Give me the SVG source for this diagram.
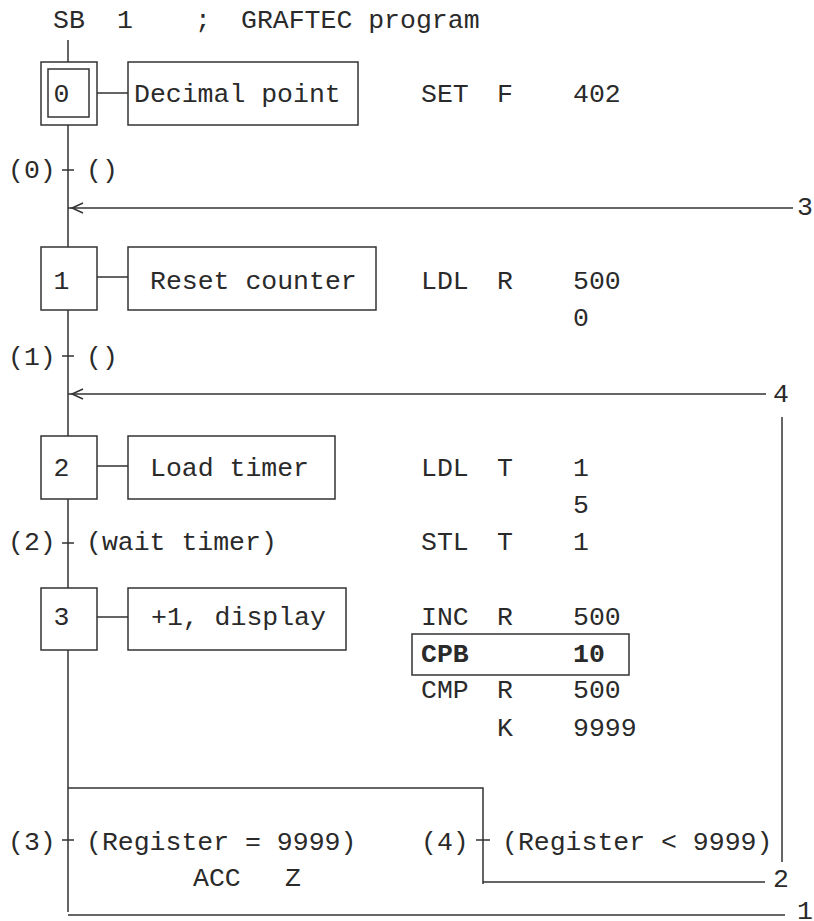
<svg xmlns="http://www.w3.org/2000/svg" width="814" height="921" viewBox="0 0 814 921">
<style>
.t { font-family: "Liberation Mono", "DejaVu Sans Mono", monospace; font-size: 26.5px; fill: #2a2a2a; }
.m { text-anchor: middle; }
.b { font-weight: bold; }
.ln { stroke: #333; stroke-width: 1.5; fill: none; }
.bx { stroke: #333; stroke-width: 1.5; fill: #fff; }
</style>
<defs>
<marker id="arr" markerUnits="userSpaceOnUse" markerWidth="20" markerHeight="20" refX="4" refY="0" orient="auto" overflow="visible">
<path d="M -11 -5 L 0 0 L -11 5" stroke="#333" stroke-width="1.5" fill="none"/>
</marker>
</defs>
<rect width="814" height="921" fill="#fff"/>

<g id="header">
<text class="t" x="53" y="28">SB</text>
<text class="t m" x="125" y="28">1</text>
<text class="t m" x="203" y="28">;</text>
<text class="t" x="241" y="28">GRAFTEC program</text>
</g>

<g id="connectors">
<path class="ln" d="M68 40 V62 M68 125 V247 M68 310 V436 M68 499 V588 M68 650 V912"/>
<path class="ln" d="M97 93 H128 M97 277 H128 M97 466 H128 M97 617 H128"/>
<path class="ln" d="M62 170 H74 M62 356 H74 M62 543 H74 M62 840 H74 M476 840 H490"/>
<path class="ln" d="M793 208 H68" marker-end="url(#arr)"/>
<path class="ln" d="M766 394 H68" marker-end="url(#arr)"/>
<path class="ln" d="M782 417 V862"/>
<path class="ln" d="M68 788 H483 V884 M483 882 H765"/>
<path class="ln" d="M68 915 H785"/>
<text class="t" x="797" y="215">3</text>
<text class="t" x="773" y="402">4</text>
<text class="t" x="773" y="887">2</text>
<text class="t" x="797" y="919">1</text>
</g>

<g id="step0">
<rect class="bx" x="41" y="62" width="56" height="63"/>
<rect class="bx" x="48" y="69" width="41" height="48"/>
<text class="t m" x="61.5" y="102">0</text>
</g>
<g id="action0">
<rect class="bx" x="128" y="62" width="230" height="63"/>
<text class="t" x="134" y="102">Decimal point</text>
</g>
<g id="code0">
<text class="t" x="421" y="102">SET</text>
<text class="t" x="497" y="102">F</text>
<text class="t" x="573" y="102">402</text>
</g>
<g id="trans0">
<text class="t" x="8" y="178">(0)</text>
<text class="t" x="86" y="178">()</text>
</g>

<g id="step1">
<rect class="bx" x="41" y="247" width="56" height="63"/>
<text class="t m" x="61.5" y="289">1</text>
</g>
<g id="action1">
<rect class="bx" x="128" y="247" width="248" height="63"/>
<text class="t" x="150" y="289">Reset counter</text>
</g>
<g id="code1">
<text class="t" x="421" y="289">LDL</text>
<text class="t" x="497" y="289">R</text>
<text class="t" x="573" y="289">500</text>
<text class="t" x="573" y="326">0</text>
</g>
<g id="trans1">
<text class="t" x="8" y="365">(1)</text>
<text class="t" x="86" y="365">()</text>
</g>

<g id="step2">
<rect class="bx" x="41" y="436" width="56" height="63"/>
<text class="t m" x="61.5" y="476">2</text>
</g>
<g id="action2">
<rect class="bx" x="128" y="436" width="207" height="63"/>
<text class="t" x="150" y="476">Load timer</text>
</g>
<g id="code2">
<text class="t" x="421" y="476">LDL</text>
<text class="t" x="497" y="476">T</text>
<text class="t" x="573" y="476">1</text>
<text class="t" x="573" y="513">5</text>
<text class="t" x="421" y="550">STL</text>
<text class="t" x="497" y="550">T</text>
<text class="t" x="573" y="550">1</text>
</g>
<g id="trans2">
<text class="t" x="8" y="550">(2)</text>
<text class="t" x="86" y="550">(wait timer)</text>
</g>

<g id="step3">
<rect class="bx" x="41" y="588" width="56" height="62"/>
<text class="t m" x="61.5" y="625">3</text>
</g>
<g id="action3">
<rect class="bx" x="128" y="588" width="218" height="62"/>
<text class="t" x="151" y="625">+1, display</text>
</g>
<g id="code3">
<text class="t" x="421" y="625">INC</text>
<text class="t" x="497" y="625">R</text>
<text class="t" x="573" y="625">500</text>
<rect class="ln" x="412" y="634" width="217" height="41"/>
<text class="t b" x="421" y="662">CPB</text>
<text class="t b" x="573" y="662">10</text>
<text class="t" x="421" y="698">CMP</text>
<text class="t" x="497" y="698">R</text>
<text class="t" x="573" y="698">500</text>
<text class="t" x="497" y="736">K</text>
<text class="t" x="573" y="736">9999</text>
</g>

<g id="trans3">
<text class="t" x="8" y="850">(3)</text>
<text class="t" x="86" y="850">(Register = 9999)</text>
<text class="t" x="193" y="886">ACC</text>
<text class="t" x="285" y="886">Z</text>
</g>
<g id="trans4">
<text class="t" x="421" y="850">(4)</text>
<text class="t" x="502" y="850">(Register &lt; 9999)</text>
</g>
</svg>
